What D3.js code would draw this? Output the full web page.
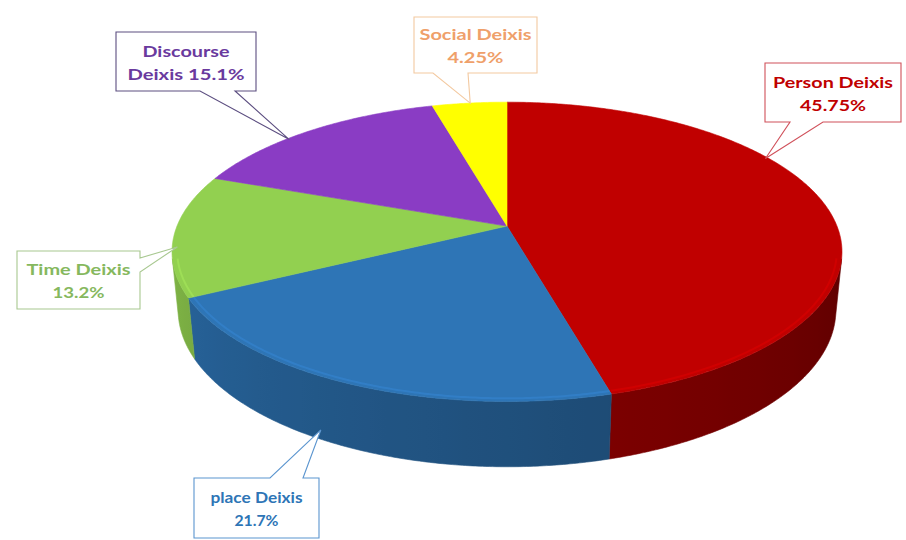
<!DOCTYPE html>
<html>
<head>
<meta charset="utf-8">
<script src="https://cdn.jsdelivr.net/npm/d3@7"></script>
<style>
  html, body { margin: 0; padding: 0; background: #ffffff; }
  svg { display: block; }
</style>
</head>
<body>
<svg id="chart" width="906" height="540"></svg>
<script>
// Share of each deixis type (percent), clockwise from 12 o'clock
const categories = ["Person Deixis", "place Deixis", "Time Deixis", "Discourse Deixis", "Social Deixis"];
const values = [45.75, 21.7, 13.2, 15.1, 4.25];

// Slice and label styling
const sliceColors = ["#C00000", "#2E75B6", "#92D050", "#8A3CC4", "#FFFF00"];
const textColors = ["#C00000", "#2E75B6", "#86B85E", "#6A3A9E", "#EFA06A"];
const borderColors = ["#D0505A", "#5B95CF", "#A8C890", "#5C4E80", "#F3C9A0"];

// Callout boxes: [x, y, w, h], wedge side and base, tip position on the slice
const callouts = [
  { box: [765, 63, 136, 59], side: "bottom", base: [790, 823], tip: { f: 0.36, r: 0.99, z: 1 }, wrap: "value", widths: [120, 66] },
  { box: [194, 478, 125, 60], side: "top", base: [270, 303], tip: { f: 0.57, r: 1, z: 0.15 }, wrap: "value", widths: [92, 44] },
  { box: [17, 251, 123, 58], side: "right", base: [258, 272], tip: { f: 0.40, r: 0.985, z: 1 }, wrap: "value", widths: [104, 52] },
  { box: [116, 32, 140, 59], side: "bottom", base: [200, 235], tip: { f: 0.40, r: 0.99, z: 1 }, wrap: "word", widths: [87, 117] },
  { box: [414, 17, 123, 56], side: "bottom", base: [433, 468], tip: { f: 0.51, r: 1.0, z: 1 }, wrap: "value", widths: [112, 56] }
];

// Perspective camera for the tilted disc
const cx = 507, cy = 283.5;
const W = 330, k = 0.1717, sinE = 0.47, cosE = Math.sqrt(1 - sinE * sinE), hR = 0.197;
const Dp = cosE / k, D = Dp + hR * sinE, F = W * Dp;

function proj(theta, r, zFrac) {
  const y = hR * zFrac;
  const px = r * Math.sin(theta), pz = -r * Math.cos(theta);
  const depth = D - y * sinE - pz * cosE;
  const sy = y * cosE - pz * sinE;
  return [cx + F * px / depth, cy - F * sy / depth];
}

const svg = d3.select("#chart");
const defs = svg.append("defs");
const pie = d3.pie().sort(null).value(d => d).startAngle(0).endAngle(2 * Math.PI);
const arcs = pie(values);

// Outer wall is visible where it faces the camera
const thMin = Math.acos(-1 / (D * cosE));
const thMax = 2 * Math.PI - thMin;
const step = Math.PI / 360;

function shade(color, theta) {
  const t = (theta - thMin) / (thMax - thMin);
  const f = 0.50 + 0.36 * t;
  const c = d3.rgb(color);
  return d3.rgb(c.r * f, c.g * f, c.b * f).formatHex();
}

// Side walls: one polygon per slice, shaded with a horizontal gradient
const walls = svg.append("g");
arcs.forEach((a, i) => {
  const a0 = Math.max(a.startAngle, thMin), a1 = Math.min(a.endAngle, thMax);
  if (a1 <= a0) return;
  const n = Math.max(2, Math.ceil((a1 - a0) / step));
  const topPts = [], botPts = [], samples = [];
  for (let j = 0; j <= n; j++) {
    const t = a0 + (a1 - a0) * j / n;
    topPts.push(proj(t, 1, 1));
    botPts.push(proj(t, 1, 0));
    samples.push([proj(t, 1, 0.5)[0], shade(sliceColors[i], t)]);
  }
  const xs = samples.map(s => s[0]);
  const xmin = d3.min(xs), xmax = d3.max(xs);
  const gid = "wall" + i;
  const grad = defs.append("linearGradient").attr("id", gid)
    .attr("gradientUnits", "userSpaceOnUse")
    .attr("x1", xmin).attr("x2", xmax).attr("y1", 0).attr("y2", 0);
  samples.sort((p, q) => p[0] - q[0])
    .filter((s, j, arr) => j % 6 === 0 || j === arr.length - 1)
    .forEach(s => grad.append("stop")
      .attr("offset", xmax > xmin ? (s[0] - xmin) / (xmax - xmin) : 0)
      .attr("stop-color", s[1]));
  const pts = topPts.concat(botPts.reverse());
  walls.append("path")
    .attr("d", "M" + pts.map(p => p.join(",")).join("L") + "Z")
    .attr("fill", "url(#" + gid + ")")
    .attr("stroke", "url(#" + gid + ")").attr("stroke-width", 0.6);
});

// Top faces
const tops = svg.append("g");
arcs.forEach((a, i) => {
  const pts = [proj(0, 0, 1)];
  const n = Math.max(2, Math.ceil((a.endAngle - a.startAngle) / step));
  for (let j = 0; j <= n; j++) {
    const t = a.startAngle + (a.endAngle - a.startAngle) * j / n;
    pts.push(proj(t, 1, 1));
  }
  tops.append("path")
    .attr("d", "M" + pts.map(p => p.join(",")).join("L") + "Z")
    .attr("fill", sliceColors[i]).attr("stroke", sliceColors[i]).attr("stroke-width", 0.6);
});

// Light bevel along the front rim of the top face
const rim = svg.append("g");
arcs.forEach((a, i) => {
  const a0 = Math.max(a.startAngle, thMin), a1 = Math.min(a.endAngle, thMax);
  if (a1 <= a0) return;
  const pts = [];
  for (let t = a0; t <= a1 + 1e-9; t += step) pts.push(proj(Math.min(t, a1), 0.985, 1));
  rim.append("path")
    .attr("d", d3.line()(pts))
    .attr("fill", "none")
    .attr("stroke", d3.rgb(sliceColors[i]).brighter(0.7))
    .attr("stroke-width", 2).attr("opacity", 0.3);
});

// Callouts
const labels = svg.append("g");
arcs.forEach((a, i) => {
  const c = callouts[i];
  const [x, y, w, h] = c.box;
  const tipTheta = a.startAngle + (a.endAngle - a.startAngle) * c.tip.f;
  const [tx, ty] = proj(tipTheta, c.tip.r, c.tip.z);
  const [b1, b2] = c.base;
  let pts;
  if (c.side === "bottom") {
    pts = [[x, y], [x + w, y], [x + w, y + h], [b2, y + h], [tx, ty], [b1, y + h], [x, y + h]];
  } else if (c.side === "top") {
    pts = [[x, y], [b1, y], [tx, ty], [b2, y], [x + w, y], [x + w, y + h], [x, y + h]];
  } else {
    pts = [[x, y], [x + w, y], [x + w, b1], [tx, ty], [x + w, b2], [x + w, y + h], [x, y + h]];
  }
  labels.append("path")
    .attr("d", "M" + pts.map(p => p.join(",")).join("L") + "Z")
    .attr("fill", "#ffffff")
    .attr("stroke", borderColors[i])
    .attr("stroke-width", 1.1);

  const pct = values[i] + "%";
  let lines;
  if (c.wrap === "word") {
    const words = categories[i].split(" ");
    lines = [words[0], words.slice(1).join(" ") + " " + pct];
  } else {
    lines = [categories[i], pct];
  }
  const midY = y + h / 2;
  lines.forEach((ln, j) => {
    labels.append("text")
      .attr("x", x + w / 2)
      .attr("y", midY + (j === 0 ? -11 : 12))
      .attr("text-anchor", "middle")
      .attr("dominant-baseline", "central")
      .attr("font-family", "Lato, 'Open Sans', sans-serif")
      .attr("font-weight", "bold")
      .attr("font-size", 15)
      .attr("fill", textColors[i])
      .attr("textLength", c.widths[j])
      .attr("lengthAdjust", "spacingAndGlyphs")
      .text(ln);
  });
});
</script>
</body>
</html>
